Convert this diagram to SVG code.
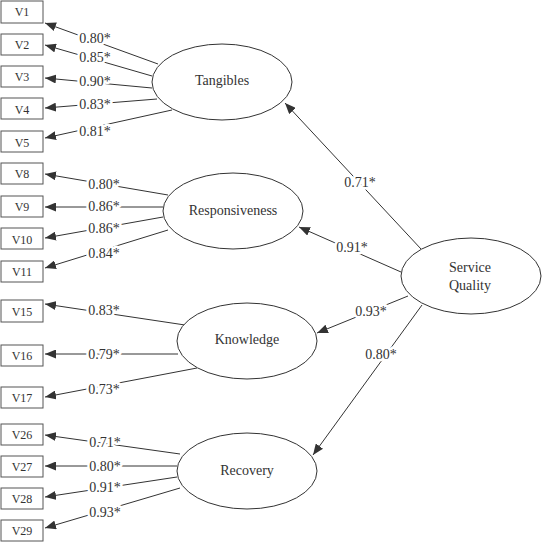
<svg xmlns="http://www.w3.org/2000/svg" width="542" height="542" viewBox="0 0 542 542" font-family="'Liberation Serif', 'Times New Roman', 'DejaVu Serif', serif">
<style>
text{font-family:'Liberation Serif','Times New Roman','DejaVu Serif',serif}
.box{fill:#fff;stroke:#555;stroke-width:1}
.ell{fill:#fff;stroke:#333;stroke-width:1}
.bt{font-size:12px;fill:#333;text-anchor:middle;dominant-baseline:central}
.et{font-size:14px;fill:#333;text-anchor:middle;dominant-baseline:central}
.ln{stroke:#333;stroke-width:1;fill:none;marker-end:url(#ah)}
.lb{font-size:14px;fill:#333;text-anchor:middle;dominant-baseline:central;paint-order:stroke;stroke:#fff;stroke-width:5px;stroke-linejoin:round}
</style>
<defs>
<marker id="ah" markerUnits="userSpaceOnUse" markerWidth="11" markerHeight="9" refX="11" refY="4.5" orient="auto">
<path d="M0,0 L11,4.5 L0,9 z" fill="#333"/>
</marker>
</defs>
<rect width="542" height="542" fill="#fff"/>
<g id="connectors">
<line class="ln" x1="158" y1="64" x2="45" y2="23"/>
<line class="ln" x1="152" y1="76" x2="45" y2="45"/>
<line class="ln" x1="152" y1="88" x2="45" y2="78"/>
<line class="ln" x1="157" y1="99" x2="45" y2="108"/>
<line class="ln" x1="172" y1="110" x2="45" y2="138"/>
<line class="ln" x1="168" y1="195" x2="45" y2="174"/>
<line class="ln" x1="163" y1="207" x2="45" y2="207"/>
<line class="ln" x1="163" y1="217" x2="45" y2="238"/>
<line class="ln" x1="168" y1="230" x2="45" y2="268"/>
<line class="ln" x1="185" y1="325" x2="45" y2="304"/>
<line class="ln" x1="178" y1="354" x2="45" y2="354"/>
<line class="ln" x1="197" y1="368" x2="45" y2="397"/>
<line class="ln" x1="180" y1="454" x2="45" y2="435"/>
<line class="ln" x1="177" y1="466" x2="45" y2="466"/>
<line class="ln" x1="177" y1="477" x2="45" y2="497"/>
<line class="ln" x1="180" y1="488" x2="45" y2="528"/>
<line class="ln" x1="421" y1="249" x2="285" y2="103"/>
<line class="ln" x1="401" y1="272" x2="299" y2="227"/>
<line class="ln" x1="408" y1="296" x2="317" y2="333"/>
<line class="ln" x1="422" y1="305" x2="313" y2="455"/>
<text class="lb" x="95" y="38">0.80*</text>
<text class="lb" x="95" y="57">0.85*</text>
<text class="lb" x="95" y="81">0.90*</text>
<text class="lb" x="95" y="104">0.83*</text>
<text class="lb" x="95" y="131">0.81*</text>
<text class="lb" x="104" y="184">0.80*</text>
<text class="lb" x="104" y="206">0.86*</text>
<text class="lb" x="104" y="228">0.86*</text>
<text class="lb" x="104" y="253">0.84*</text>
<text class="lb" x="104" y="310">0.83*</text>
<text class="lb" x="104" y="354">0.79*</text>
<text class="lb" x="104" y="389">0.73*</text>
<text class="lb" x="105" y="442">0.71*</text>
<text class="lb" x="105" y="466">0.80*</text>
<text class="lb" x="105" y="487">0.91*</text>
<text class="lb" x="105" y="512">0.93*</text>
<text class="lb" x="360" y="182">0.71*</text>
<text class="lb" x="352" y="247">0.91*</text>
<text class="lb" x="371" y="311">0.93*</text>
<text class="lb" x="381" y="354">0.80*</text>
</g>
<g id="V1"><rect class="box" x="1" y="1" width="42" height="22"/><text class="bt" x="22" y="12">V1</text></g>
<g id="V2"><rect class="box" x="1" y="34" width="42" height="21"/><text class="bt" x="22" y="45">V2</text></g>
<g id="V3"><rect class="box" x="1" y="66" width="42" height="21"/><text class="bt" x="22" y="77">V3</text></g>
<g id="V4"><rect class="box" x="1" y="98" width="42" height="21"/><text class="bt" x="22" y="110">V4</text></g>
<g id="V5"><rect class="box" x="1" y="131" width="42" height="21"/><text class="bt" x="22" y="143">V5</text></g>
<g id="V8"><rect class="box" x="1" y="163" width="42" height="21"/><text class="bt" x="22" y="174">V8</text></g>
<g id="V9"><rect class="box" x="1" y="196" width="42" height="21"/><text class="bt" x="22" y="207">V9</text></g>
<g id="V10"><rect class="box" x="1" y="228" width="42" height="21"/><text class="bt" x="22" y="240">V10</text></g>
<g id="V11"><rect class="box" x="1" y="261" width="42" height="21"/><text class="bt" x="22" y="272">V11</text></g>
<g id="V15"><rect class="box" x="1" y="300" width="42" height="22"/><text class="bt" x="22" y="312">V15</text></g>
<g id="V16"><rect class="box" x="1" y="345" width="42" height="21"/><text class="bt" x="22" y="356">V16</text></g>
<g id="V17"><rect class="box" x="1" y="387" width="42" height="21"/><text class="bt" x="22" y="398">V17</text></g>
<g id="V26"><rect class="box" x="1" y="424" width="42" height="21"/><text class="bt" x="22" y="435">V26</text></g>
<g id="V27"><rect class="box" x="1" y="456" width="42" height="21"/><text class="bt" x="22" y="467">V27</text></g>
<g id="V28"><rect class="box" x="1" y="488" width="42" height="21"/><text class="bt" x="22" y="499">V28</text></g>
<g id="V29"><rect class="box" x="1" y="520" width="42" height="21"/><text class="bt" x="22" y="531">V29</text></g>
<g id="Tangibles"><ellipse class="ell" cx="222" cy="82" rx="70" ry="38"/><text class="et" x="222" y="80">Tangibles</text></g>
<g id="Responsiveness"><ellipse class="ell" cx="233" cy="211" rx="70" ry="38"/><text class="et" x="233" y="210">Responsiveness</text></g>
<g id="Knowledge"><ellipse class="ell" cx="247" cy="341" rx="70" ry="38"/><text class="et" x="247" y="339">Knowledge</text></g>
<g id="Recovery"><ellipse class="ell" cx="247" cy="471" rx="70" ry="38"/><text class="et" x="247" y="470">Recovery</text></g>
<g id="ServiceQuality"><ellipse class="ell" cx="471" cy="276" rx="70" ry="38"/><text class="et" x="470" y="267">Service</text><text class="et" x="470" y="285">Quality</text></g>
</svg>
